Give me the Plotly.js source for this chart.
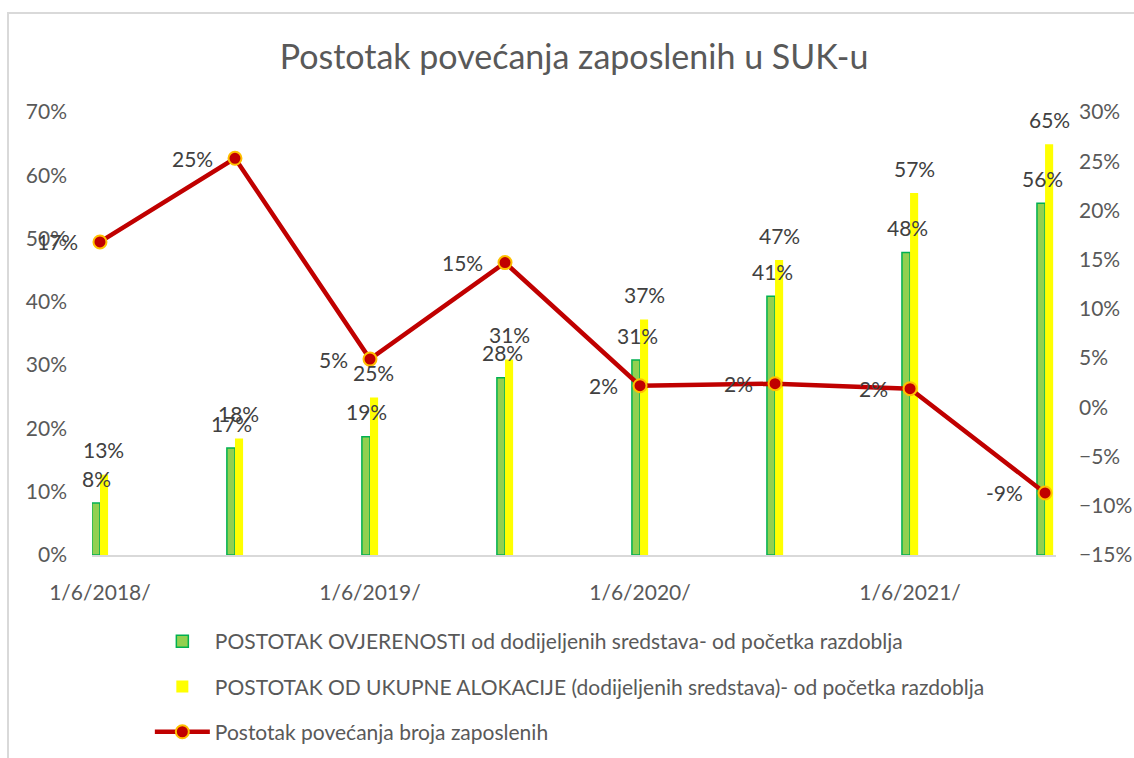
<!DOCTYPE html>
<html>
<head>
<meta charset="utf-8">
<script src="https://cdn.plot.ly/plotly-3.0.1.min.js"></script>
<style>html,body{margin:0;padding:0;background:#fff;}#chart{width:1134px;height:758px;}</style>
</head>
<body>
<div id="chart"></div>
<script>
var categories = ['1/6/2018/','1/12/2018/','1/6/2019/','1/12/2019/','1/6/2020/','1/12/2020/','1/6/2021/','1/12/2021/'];
var tickLabels = ['1/6/2018/','1/6/2019/','1/6/2020/','1/6/2021/'];
var ovjerenost = [0.082,0.169,0.187,0.280,0.308,0.409,0.478,0.556];
var alokacija = [0.127,0.184,0.249,0.309,0.372,0.466,0.572,0.649];
var zaposleni = [0.168,0.253,0.049,0.147,0.022,0.024,0.019,-0.087];
var seriesNames = [
  'POSTOTAK OVJERENOSTI od dodijeljenih sredstava- od početka razdoblja',
  'POSTOTAK OD UKUPNE ALOKACIJE (dodijeljenih sredstava)- od početka razdoblja',
  'Postotak povećanja broja zaposlenih'
];

var FONT = 'Lato, "Open Sans", sans-serif';
var FS = 21;
function pct(v){ return Math.round(v*100) + '%'; }

var traces = [
  {type:'bar', x:categories, y:ovjerenost, name:seriesNames[0], legendgroup:'a',
   marker:{color:'#92d050', line:{color:'#00b050', width:1.5}}, hoverinfo:'y'},
  {type:'bar', x:categories, y:alokacija, name:seriesNames[1], legendgroup:'b',
   marker:{color:'#ffff00', line:{color:'#ffff00', width:0}}, hoverinfo:'y'},
  {type:'scatter', mode:'lines+markers', x:categories, y:zaposleni, yaxis:'y2', name:seriesNames[2], legendgroup:'c',
   line:{color:'#c00000', width:4.5}, marker:{color:'#c00000', size:13, line:{color:'#ffc000', width:2}}, cliponaxis:false}
];

var annotations = [];
categories.forEach(function(c,i){
  annotations.push({x:c, y:ovjerenost[i], xref:'x', yref:'y', text:pct(ovjerenost[i]), showarrow:false,
    xshift:-3, yshift:25, font:{family:FONT, size:FS, color:'#404040'}});
  annotations.push({x:c, y:alokacija[i], xref:'x', yref:'y', text:pct(alokacija[i]), showarrow:false,
    xshift:4, yshift:25, font:{family:FONT, size:FS, color:'#404040'}});
  annotations.push({x:c, y:zaposleni[i], xref:'x', yref:'y2', text:pct(zaposleni[i]), showarrow:false,
    xanchor:'right', xshift:-20, font:{family:FONT, size:FS, color:'#404040'}});
});

var layout = {
  width:1134, height:758,
  paper_bgcolor:'#ffffff', plot_bgcolor:'rgba(0,0,0,0)',
  margin:{l:92, r:78, t:112, b:203, autoexpand:false},
  font:{family:FONT, color:'#595959'},
  title:{text:'Postotak povećanja zaposlenih u SUK-u', x:0.5, xanchor:'center', xref:'paper',
         y:1-57/758, yref:'container', yanchor:'middle', font:{family:FONT, size:34, color:'#595959'}},
  barmode:'group', bargap:0.88, bargroupgap:0,
  showlegend:true,
  legend:{x:0.06, xanchor:'left', y:-0.149, yanchor:'top', orientation:'v',
          traceorder:'grouped', tracegroupgap:15, itemwidth:55,
          font:{family:FONT, size:FS, color:'#595959'}, bgcolor:'rgba(0,0,0,0)'},
  xaxis:{type:'category', range:[-0.059, 7.081], tickvals:tickLabels, ticktext:tickLabels, automargin:false,
         showgrid:false, zeroline:false, showline:true, linecolor:'#d9d9d9', linewidth:1.5,
         ticks:'', ticklabelstandoff:18, tickfont:{family:FONT, size:FS, color:'#595959'}},
  yaxis:{range:[0,0.7], dtick:0.1, tickformat:'.0%', showgrid:false, zeroline:false, showline:false, automargin:false,
         ticks:'', ticklabelstandoff:24, tickfont:{family:FONT, size:FS, color:'#595959'}},
  yaxis2:{overlaying:'y', side:'right', range:[-0.15,0.30], dtick:0.05, tickformat:'.0%', showgrid:false, automargin:false,
          zeroline:false, showline:false, ticks:'', ticklabelstandoff:22,
          tickfont:{family:FONT, size:FS, color:'#595959'}},
  annotations:annotations,
  shapes:[{type:'rect', xref:'paper', yref:'paper', x0:(8-92)/964, x1:1.3, y0:-1, y1:(555-13)/443,
           line:{color:'#d9d9d9', width:2}, fillcolor:'rgba(0,0,0,0)', layer:'below'}]
};

Plotly.newPlot('chart', traces, layout, {displayModeBar:false, staticPlot:true});
</script>
</body>
</html>
